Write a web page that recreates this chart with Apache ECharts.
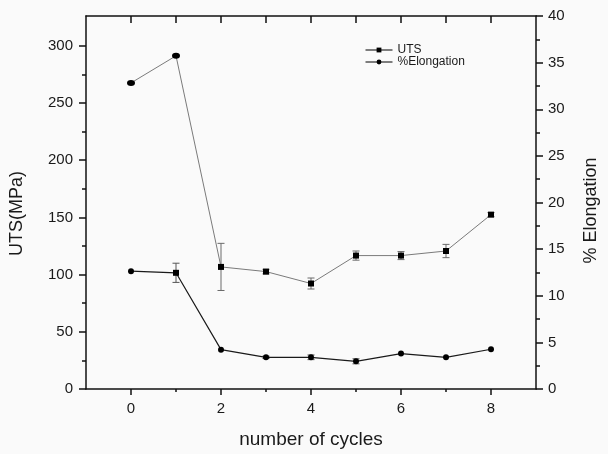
<!DOCTYPE html>
<html>
<head>
<meta charset="utf-8">
<script src="https://cdn.jsdelivr.net/npm/echarts@6/dist/echarts.min.js"></script>
<style>
html,body{margin:0;padding:0;background:#fafafa;}
#chart{width:608px;height:454px;}
</style>
</head>
<body>
<div id="chart"></div>
<script>
// ---- data ----
const cycles = [0, 1, 2, 3, 4, 5, 6, 7, 8];
const utsValues = [267.5, 291.2, 106.7, 102.6, 92.2, 116.6, 116.6, 120.6, 152.4];
const utsErr = [0, 0, 20.6, 2.0, 4.8, 4.0, 3.5, 5.8, 1.8];
const elongValues = [12.64, 12.46, 4.22, 3.40, 3.40, 2.97, 3.80, 3.40, 4.26];
const elongErr = [0, 1.03, 0, 0.12, 0.25, 0.27, 0, 0, 0];
const xMajorTicks = [0, 2, 4, 6, 8];
const xMinorTicks = [1, 3, 5, 7];
const xTopTicks = [0, 1, 2, 3, 4, 5, 6, 7, 8];
const leftMajorTicks = [0, 50, 100, 150, 200, 250, 300];
const leftMinorTicks = [25, 75, 125, 175, 225, 275];
const seriesNames = ['UTS', '%Elongation'];
const axisTitles = { x: 'number of cycles', left: 'UTS(MPa)', right: '% Elongation' };

// per-point symbol overrides as they appear in the figure
const utsSymbols = ['circle', 'circle', 'rect', 'rect', 'rect', 'rect', 'rect', 'rect', 'rect'];
const elongSymbols = ['circle', 'rect', 'circle', 'circle', 'circle', 'circle', 'circle', 'circle', 'circle'];

const FONT = 'Liberation Sans, Arial, sans-serif';
const AX = '#111';
const TXT = '#1a1a1a';

function errRender(params, api) {
  const x = api.value(0), lo = api.value(1), hi = api.value(2);
  const p1 = api.coord([x, hi]), p2 = api.coord([x, lo]);
  const w = 3.5;
  const style = { stroke: api.visual('color'), lineWidth: 1, fill: null };
  return {
    type: 'group',
    children: [
      { type: 'line', shape: { x1: p1[0], y1: p1[1], x2: p2[0], y2: p2[1] }, style: style },
      { type: 'line', shape: { x1: p1[0] - w, y1: p1[1], x2: p1[0] + w, y2: p1[1] }, style: style },
      { type: 'line', shape: { x1: p2[0] - w, y1: p2[1], x2: p2[0] + w, y2: p2[1] }, style: style }
    ]
  };
}

const utsData = cycles.map((c, i) => ({ value: [c, utsValues[i]], symbol: utsSymbols[i], symbolSize: utsSymbols[i] === 'circle' ? [8, 6] : 6 }));
const elongData = cycles.map((c, i) => ({ value: [c, elongValues[i]], symbol: elongSymbols[i], symbolSize: 6 }));
const utsErrData = cycles.map((c, i) => [c, utsValues[i] - utsErr[i], utsValues[i] + utsErr[i]]).filter((d, i) => utsErr[i] > 0);
const elongErrData = cycles.map((c, i) => [c, elongValues[i] - elongErr[i], elongValues[i] + elongErr[i]]).filter((d, i) => elongErr[i] > 0);

const lineSty = { color: AX, width: 1.5 };

const chart = echarts.init(document.getElementById('chart'), null, { renderer: 'canvas' });
chart.setOption({
  animation: false,
  backgroundColor: '#fafafa',
  grid: { left: 86, right: 56, top: 16, bottom: 64 },
  legend: {
    orient: 'vertical',
    left: 365,
    top: 44,
    padding: 0,
    itemGap: 0,
    itemWidth: 27,
    itemHeight: 6,
    data: seriesNames,
    textStyle: { fontFamily: FONT, fontSize: 12, color: TXT, lineHeight: 12 },
    lineStyle: { color: '#000', width: 1 },
    itemStyle: { color: '#000' }
  },
  xAxis: [
    {
      type: 'value', position: 'bottom', offset: 0, min: -1, max: 9,
      name: axisTitles.x, nameLocation: 'middle', nameGap: 41,
      nameTextStyle: { fontFamily: FONT, fontSize: 19, color: TXT },
      axisLine: { show: true, onZero: false, lineStyle: lineSty },
      axisTick: { show: true, inside: false, length: 6, customValues: xMajorTicks, lineStyle: lineSty },
      axisLabel: { show: true, customValues: xMajorTicks, margin: 12, fontFamily: FONT, fontSize: 15, color: TXT },
      splitLine: { show: false }
    },
    {
      type: 'value', position: 'bottom', offset: 0, min: -1, max: 9,
      axisLine: { show: false, onZero: false },
      axisTick: { show: true, inside: false, length: 3, customValues: xMinorTicks, lineStyle: lineSty },
      axisLabel: { show: false },
      splitLine: { show: false }
    },
    {
      type: 'value', position: 'top', offset: 0, min: -1, max: 9,
      axisLine: { show: true, onZero: false, lineStyle: lineSty },
      axisTick: { show: true, inside: true, length: 7, customValues: xTopTicks, lineStyle: lineSty },
      axisLabel: { show: false },
      splitLine: { show: false }
    }
  ],
  yAxis: [
    {
      type: 'value', position: 'left', offset: 0, min: 0, max: 326,
      name: axisTitles.left, nameLocation: 'middle', nameGap: 60,
      nameTextStyle: { fontFamily: FONT, fontSize: 18, color: TXT, padding: [0, 22, 0, 0] },
      axisLine: { show: true, onZero: false, lineStyle: lineSty },
      axisTick: { show: true, inside: false, length: 7, customValues: leftMajorTicks, lineStyle: lineSty },
      axisLabel: { show: true, customValues: leftMajorTicks, margin: 13, fontFamily: FONT, fontSize: 15, color: TXT },
      splitLine: { show: false }
    },
    {
      type: 'value', position: 'left', offset: 0, min: 0, max: 326,
      axisLine: { show: false, onZero: false },
      axisTick: { show: true, inside: false, length: 4, customValues: leftMinorTicks, lineStyle: lineSty },
      axisLabel: { show: false },
      splitLine: { show: false }
    },
    {
      type: 'value', position: 'right', offset: 0, min: 0, max: 40, interval: 5,
      name: axisTitles.right, nameLocation: 'middle', nameGap: 46,
      nameTextStyle: { fontFamily: FONT, fontSize: 18, color: TXT, padding: [0, 16, 0, 0] },
      axisLine: { show: true, onZero: false, lineStyle: lineSty },
      axisTick: { show: true, inside: false, length: 7, lineStyle: lineSty },
      minorTick: { show: true, splitNumber: 2, length: 4, lineStyle: lineSty },
      axisLabel: { show: true, margin: 12, fontFamily: FONT, fontSize: 15, color: TXT },
      splitLine: { show: false }
    }
  ],
  series: [
    {
      name: seriesNames[0], type: 'line', xAxisIndex: 0, yAxisIndex: 0,
      data: utsData, symbol: 'rect', symbolSize: 6, color: '#000',
      lineStyle: { color: '#7a7a7a', width: 1 }, itemStyle: { color: '#000' }, z: 3
    },
    {
      name: seriesNames[1], type: 'line', xAxisIndex: 0, yAxisIndex: 2,
      data: elongData, symbol: 'circle', symbolSize: 6, color: '#000',
      lineStyle: { color: '#1a1a1a', width: 1.2 }, itemStyle: { color: '#000' }, z: 3
    },
    {
      name: 'utsErr', type: 'custom', xAxisIndex: 0, yAxisIndex: 0,
      renderItem: errRender, data: utsErrData, encode: { x: 0, y: [1, 2] },
      itemStyle: { color: '#6a6a6a' }, z: 2
    },
    {
      name: 'elongErr', type: 'custom', xAxisIndex: 0, yAxisIndex: 2,
      renderItem: errRender, data: elongErrData, encode: { x: 0, y: [1, 2] },
      itemStyle: { color: '#555' }, z: 2
    }
  ]
});
</script>
</body>
</html>
